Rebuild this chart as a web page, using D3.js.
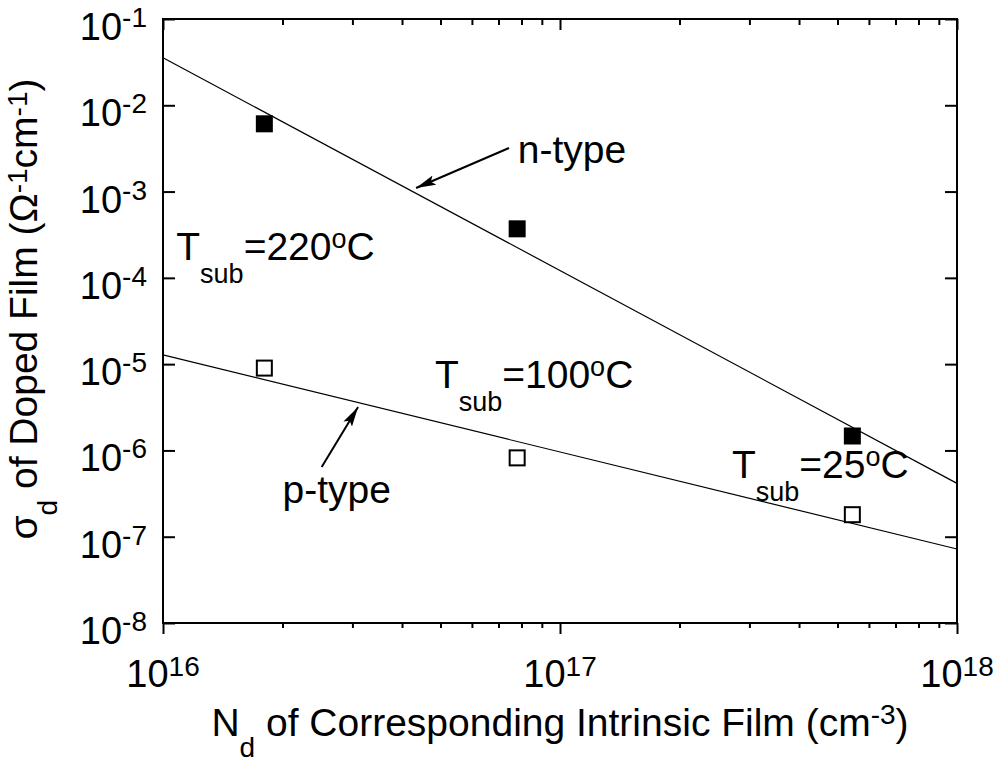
<!DOCTYPE html>
<html>
<head>
<meta charset="utf-8">
<script src="https://cdn.jsdelivr.net/npm/d3@7"></script>
<style>
  body { margin: 0; background: #fff; }
  text { font-family: "Liberation Sans", Arial, sans-serif; fill: #000; }
</style>
</head>
<body>
<div id="chart"></div>
<script>
// data
const nd = [1.8e16, 7.8e16, 5.45e17];          // N_d of intrinsic film (cm^-3)
const sigmaN = [6.1e-3, 3.7e-4, 1.47e-6];       // n-type doped film
const sigmaP = [9.0e-6, 8.2e-7, 1.8e-7];        // p-type doped film
const fitN = [[1e16, 3.56e-2], [1e18, 4.15e-7]];
const fitP = [[1e16, 1.28e-5], [1e18, 7.2e-8]];
const xTickExp = [16, 17, 18];
const yTickExp = [-1, -2, -3, -4, -5, -6, -7, -8];
const tempLabels = [
  { x: 1.08e16, y: 1.61e-4, t: "220" },
  { x: 4.84e16, y: 5.3e-6, t: "100" },
  { x: 2.71e17, y: 4.8e-7, t: "25" }
];
const typeLabels = [
  { text: "n-type", x: 7.83e16, y: 2.14e-3, from: [7.44e16, 3.2e-3], to: [4.34e16, 1.10e-3] },
  { text: "p-type", x: 2.0e16, y: 2.47e-7, from: [2.51e16, 6.44e-7], to: [3.10e16, 3.19e-6] }
];

const width = 1004, height = 763;
const mLeft = 163, mRight = 957, mTop = 19, mBottom = 623;

const svg = d3.select('#chart').append('svg')
  .attr('width', width)
  .attr('height', height);

const x = d3.scaleLog().domain([1e16, 1e18]).range([mLeft, mRight]);
const y = d3.scaleLog().domain([1e-1, 1e-8]).range([mTop, mBottom]);

// minor ticks for x
const xMinor = [];
[1e16, 1e17].forEach(d => { for (let k = 2; k <= 9; k++) xMinor.push(d * k); });
const xMajor = xTickExp.map(e => Math.pow(10, e));
const yMajor = yTickExp.map(e => Math.pow(10, e));

function styleAxis(g) {
  g.select('.domain').remove();
  g.selectAll('line').attr('stroke', '#000').attr('stroke-width', 2);
  g.selectAll('text').remove();
}

// bottom ticks (point down)
svg.append('g').attr('transform', `translate(0,${mBottom})`)
  .call(d3.axisBottom(x).tickValues(xMajor).tickSize(11)).call(styleAxis);
svg.append('g').attr('transform', `translate(0,${mBottom})`)
  .call(d3.axisBottom(x).tickValues(xMinor).tickSize(5)).call(styleAxis);
// top ticks (point down, inside)
svg.append('g').attr('transform', `translate(0,${mTop})`)
  .call(d3.axisTop(x).tickValues(xMajor).tickSize(-11)).call(styleAxis);
svg.append('g').attr('transform', `translate(0,${mTop})`)
  .call(d3.axisTop(x).tickValues(xMinor).tickSize(-6)).call(styleAxis);
// left / right ticks (inside)
svg.append('g').attr('transform', `translate(${mLeft},0)`)
  .call(d3.axisLeft(y).tickValues(yMajor).tickSize(-12)).call(styleAxis);
svg.append('g').attr('transform', `translate(${mRight},0)`)
  .call(d3.axisRight(y).tickValues(yMajor).tickSize(-12)).call(styleAxis);

// frame
svg.append('rect')
  .attr('x', mLeft).attr('y', mTop)
  .attr('width', mRight - mLeft).attr('height', mBottom - mTop)
  .attr('fill', 'none').attr('stroke', '#000').attr('stroke-width', 2);

// tick labels
const xl = svg.selectAll('.xlab').data(xTickExp).enter().append('text')
  .attr('class', 'xlab')
  .attr('x', d => x(Math.pow(10, d)))
  .attr('y', mBottom + 64)
  .attr('text-anchor', 'middle')
  .style('font-size', '38px');
xl.append('tspan').text('10');
xl.append('tspan').attr('dy', -11).style('font-size', '28px').text(d => d);

const yl = svg.selectAll('.ylab').data(yTickExp).enter().append('text')
  .attr('class', 'ylab')
  .attr('x', mLeft - 16)
  .attr('y', d => y(Math.pow(10, d)) + 21)
  .attr('text-anchor', 'end')
  .style('font-size', '38px');
yl.append('tspan').text('10');
yl.append('tspan').attr('dy', -13).style('font-size', '28px').text(d => d);

// fit lines
const line = d3.line().x(d => x(d[0])).y(d => y(d[1]));
svg.append('path').attr('d', line(fitN)).attr('fill', 'none').attr('stroke', '#000').attr('stroke-width', 1.2);
svg.append('path').attr('d', line(fitP)).attr('fill', 'none').attr('stroke', '#000').attr('stroke-width', 1.2);

// markers
const s = 17;
svg.selectAll('.nmark').data(nd).enter().append('rect')
  .attr('x', (d, i) => x(d) - s / 2)
  .attr('y', (d, i) => y(sigmaN[i]) - s / 2)
  .attr('width', s).attr('height', s)
  .attr('fill', '#000');
svg.selectAll('.pmark').data(nd).enter().append('rect')
  .attr('x', (d, i) => x(d) - (s - 2) / 2)
  .attr('y', (d, i) => y(sigmaP[i]) - (s - 2) / 2)
  .attr('width', s - 2).attr('height', s - 2)
  .attr('fill', '#fff').attr('stroke', '#000').attr('stroke-width', 2);

// arrows
svg.append('defs').append('marker')
  .attr('id', 'head')
  .attr('viewBox', '0 0 20 10')
  .attr('refX', 20).attr('refY', 5)
  .attr('markerWidth', 20).attr('markerHeight', 10)
  .attr('markerUnits', 'userSpaceOnUse')
  .attr('orient', 'auto')
  .append('path').attr('d', 'M0,0 L20,5 L0,10 L4,5 Z').attr('fill', '#000');

typeLabels.forEach(t => {
  svg.append('line')
    .attr('x1', x(t.from[0])).attr('y1', y(t.from[1]))
    .attr('x2', x(t.to[0])).attr('y2', y(t.to[1]))
    .attr('stroke', '#000').attr('stroke-width', 2)
    .attr('marker-end', 'url(#head)');
  svg.append('text')
    .attr('x', x(t.x)).attr('y', y(t.y))
    .style('font-size', '39px')
    .text(t.text);
});

// temperature labels
tempLabels.forEach(t => {
  const txt = svg.append('text')
    .attr('x', x(t.x)).attr('y', y(t.y))
    .style('font-size', '39px');
  txt.append('tspan').text('T');
  txt.append('tspan').attr('dy', 23).style('font-size', '27px').text('sub');
  txt.append('tspan').attr('dy', -23).text('=' + t.t);
  txt.append('tspan').attr('dy', -12).style('font-size', '27px').text('o');
  txt.append('tspan').attr('dy', 12).text('C');
});

// axis titles
const xt = svg.append('text')
  .attr('x', (mLeft + mRight) / 2).attr('y', 736)
  .attr('text-anchor', 'middle')
  .style('font-size', '39px');
xt.append('tspan').text('N');
xt.append('tspan').attr('dy', 21).style('font-size', '28px').text('d');
xt.append('tspan').attr('dy', -21).text(' of Corresponding Intrinsic Film (cm');
xt.append('tspan').attr('dy', -12).style('font-size', '28px').text('-3');
xt.append('tspan').attr('dy', 12).text(')');

const yt = svg.append('text')
  .attr('transform', `translate(37,${(mTop + mBottom) / 2 - 12}) rotate(-90)`)
  .attr('text-anchor', 'middle')
  .style('font-size', '39px');
yt.append('tspan').text('\u03c3');
yt.append('tspan').attr('dy', 20).style('font-size', '28px').text('d');
yt.append('tspan').attr('dy', -20).text(' of Doped Film (\u03a9');
yt.append('tspan').attr('dy', -10).style('font-size', '28px').text('-1');
yt.append('tspan').attr('dy', 10).text('cm');
yt.append('tspan').attr('dy', -10).style('font-size', '28px').text('-1');
yt.append('tspan').attr('dy', 10).text(')');
</script>
</body>
</html>
